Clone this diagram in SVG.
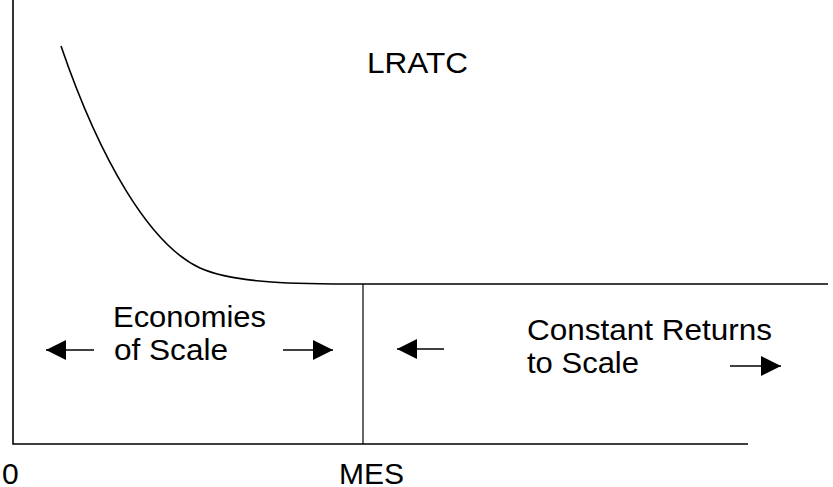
<svg xmlns="http://www.w3.org/2000/svg" width="833" height="487" viewBox="0 0 833 487">
  <style>
    .ln { fill: none; stroke: #000; stroke-width: 1.6; }
    .thin { fill: none; stroke: #000; stroke-width: 1.2; }
    .lbl { font-family: "Liberation Sans", Arial, sans-serif; font-size: 30px; fill: #000; }
  </style>
  <defs>
    <marker id="head" viewBox="0 0 20 20" refX="20" refY="10" markerWidth="20" markerHeight="20" markerUnits="userSpaceOnUse" orient="auto">
      <path d="M0,0 L20,10 L0,20 Z" fill="#000"/>
    </marker>
  </defs>
  <rect width="833" height="487" fill="#fff"/>

  <!-- axes -->
  <g id="axes">
    <path class="ln" d="M13,0 V444 H748"/>
  </g>

  <!-- long-run average total cost curve -->
  <g id="lratc-curve">
    <path class="ln" d="M61,46 C100,160 150,245 200,268 C236,284 300,284 363,284 H828"/>
  </g>

  <!-- minimum efficient scale marker -->
  <g id="mes-line">
    <path class="thin" d="M363,284 V444"/>
  </g>

  <!-- direction arrows -->
  <g id="connectors">
    <path class="ln" d="M94,350 H46" marker-end="url(#head)"/>
    <path class="ln" d="M283,350 H333" marker-end="url(#head)"/>
    <path class="ln" d="M444,349 H397" marker-end="url(#head)"/>
    <path class="ln" d="M730,366 H781" marker-end="url(#head)"/>
  </g>

  <g id="label-lratc">
    <text class="lbl" x="367" y="73" textLength="101" lengthAdjust="spacingAndGlyphs">LRATC</text>
  </g>
  <g id="label-economies">
    <text class="lbl" x="113" y="327" textLength="153" lengthAdjust="spacingAndGlyphs">Economies</text>
    <text class="lbl" x="114" y="360" textLength="114" lengthAdjust="spacingAndGlyphs">of Scale</text>
  </g>
  <g id="label-constant">
    <text class="lbl" x="527" y="340" textLength="245" lengthAdjust="spacingAndGlyphs">Constant Returns</text>
    <text class="lbl" x="527" y="373" textLength="112" lengthAdjust="spacingAndGlyphs">to Scale</text>
  </g>
  <g id="label-origin">
    <text class="lbl" x="2" y="484">0</text>
  </g>
  <g id="label-mes">
    <text class="lbl" x="339" y="484" textLength="65" lengthAdjust="spacingAndGlyphs">MES</text>
  </g>
</svg>
